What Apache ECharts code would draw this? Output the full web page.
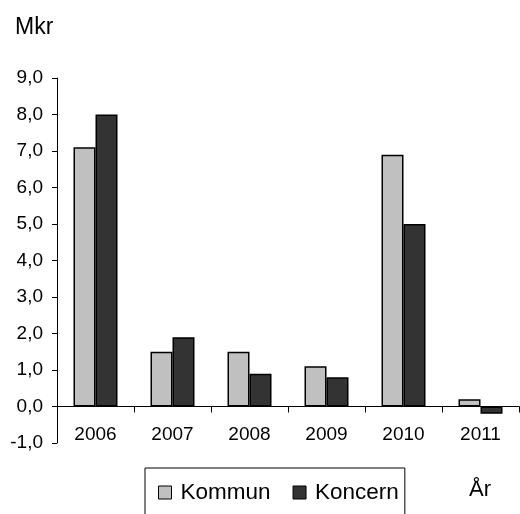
<!DOCTYPE html>
<html>
<head>
<meta charset="utf-8">
<script src="https://cdn.jsdelivr.net/npm/echarts@6/dist/echarts.min.js"></script>
<style>
  html, body { margin: 0; padding: 0; background: #fff; }
  #chart { width: 520px; height: 514px; }
</style>
</head>
<body>
<div id="chart"></div>
<script>
var years = ["2006", "2007", "2008", "2009", "2010", "2011"];
var kommun = [7.1, 1.5, 1.5, 1.1, 6.9, 0.2];
var koncern = [8.0, 1.9, 0.9, 0.8, 5.0, -0.2];
var yMin = -1, yMax = 9, yStep = 1;

var font = "Liberation Sans, Arial, sans-serif";
var chart = echarts.init(document.getElementById("chart"));
var option = {
  backgroundColor: "#fff",
  animation: false,
  textStyle: { fontFamily: font, color: "#000" },
  title: {
    text: "Mkr",
    left: 10,
    top: 11,
    textStyle: { fontFamily: font, fontSize: 23, fontWeight: "normal", color: "#000" }
  },
  graphic: [
    {
      type: "text",
      left: 469,
      top: 479,
      style: { text: "År", font: "22px Liberation Sans, Arial, sans-serif", fill: "#000" }
    }
  ],
  legend: {
    data: ["Kommun", "Koncern"],
    left: 145,
    top: 468,
    orient: "horizontal",
    icon: "rect",
    itemWidth: 13,
    itemHeight: 13,
    itemGap: 22,
    padding: [13, 6, 30, 13],
    borderColor: "#000",
    borderWidth: 1,
    itemStyle: { borderColor: "#000", borderWidth: 1 },
    textStyle: { fontFamily: font, fontSize: 22.5, color: "#000", padding: [0, 0, 0, 4] }
  },
  grid: { left: 57, right: 1, top: 78, bottom: 71 },
  xAxis: {
    type: "category",
    data: years,
    axisLine: { onZero: true, lineStyle: { color: "#000", width: 1 } },
    axisTick: { show: true, length: 6, lineStyle: { color: "#000" } },
    axisLabel: { fontFamily: font, fontSize: 19, color: "#000", margin: -18 },
    splitLine: { show: false }
  },
  yAxis: {
    type: "value",
    min: yMin,
    max: yMax,
    interval: yStep,
    axisLine: { show: true, lineStyle: { color: "#000", width: 1 } },
    axisTick: { show: true, length: 5, lineStyle: { color: "#000" } },
    axisLabel: {
      fontFamily: font, fontSize: 19, color: "#000", margin: 14,
      formatter: function (v) { return v.toFixed(1).replace(".", ","); }
    },
    splitLine: { show: false }
  },
  series: [
    {
      name: "Kommun",
      type: "bar",
      data: kommun,
      barWidth: 22,
      barGap: "0%",
      itemStyle: { color: "#c0c0c0", borderColor: "#000", borderWidth: 1.5 }
    },
    {
      name: "Koncern",
      type: "bar",
      data: koncern,
      barWidth: 22,
      barGap: "0%",
      itemStyle: { color: "#333333", borderColor: "#000", borderWidth: 1.5 }
    }
  ]
};
chart.setOption(option);
</script>
</body>
</html>
